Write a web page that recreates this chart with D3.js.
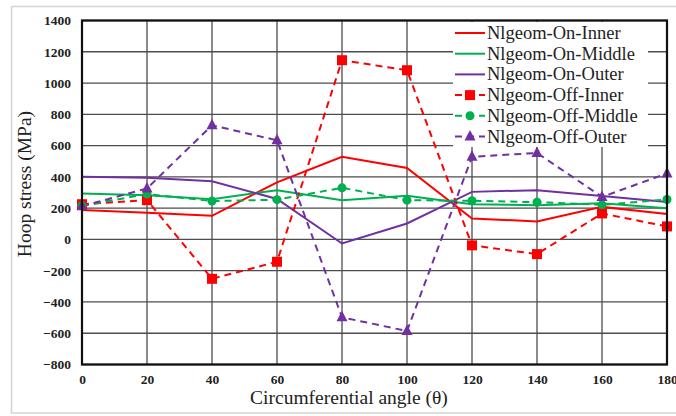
<!DOCTYPE html>
<html><head><meta charset="utf-8">
<script src="https://cdn.jsdelivr.net/npm/d3@7"></script>
<style>body{margin:0;background:#fff}svg{display:block}svg text{font-family:"Liberation Serif","Times New Roman",Times,"DejaVu Serif",serif}</style>
</head><body>
<svg id="c" width="676" height="416"></svg>
<script>
const angles = [0,20,40,60,80,100,120,140,160,180];
const onInner   = [188,170,151,365,528,457,134,115,208,162];
const onMiddle  = [294,282,257,315,251,279,225,219,232,200];
const onOuter   = [400,395,372,259,-26,102,304,315,277,240];
const offInner  = [225,251,-252,-143,1146,1082,-38,-94,166,83];
const offMiddle = [215,290,245,254,330,251,247,238,221,255];
const offOuter  = [212,326,730,634,-498,-586,528,553,272,422];
const yTicks = [-800,-600,-400,-200,0,200,400,600,800,1000,1200,1400];
const xTicks = angles;
const seriesNames = ["Nlgeom-On-Inner","Nlgeom-On-Middle","Nlgeom-On-Outer","Nlgeom-Off-Inner","Nlgeom-Off-Middle","Nlgeom-Off-Outer"];
const seriesColors = ["#ff0000","#00b050","#7030a0","#ff0000","#00b050","#7030a0"];
const seriesValues = [onInner,onMiddle,onOuter,offInner,offMiddle,offOuter];
const seriesDashed = [false,false,false,true,true,true];
const seriesMarker = [null,null,null,"square","circle","triangle"];

const svg = d3.select("#c");
const L=82,R=667,T=20.5,B=364.5;
const x = d3.scaleLinear().domain([0,180]).range([L,R]);
const y = d3.scaleLinear().domain([-800,1400]).range([B,T]);

// outer frame
svg.append("rect").attr("x",11.5).attr("y",6.5).attr("width",680).attr("height",406.5)
  .attr("fill","#fff").attr("stroke","#d4d4d4").attr("stroke-width",1.5);

// grid
const g = svg.append("g");
g.selectAll(".gx").data(xTicks).join("line")
  .attr("x1",d=>x(d)).attr("x2",d=>x(d)).attr("y1",T).attr("y2",B)
  .attr("stroke","#4d4d4d").attr("stroke-width",1.3);
g.selectAll(".gy").data(yTicks).join("line")
  .attr("y1",d=>y(d)).attr("y2",d=>y(d)).attr("x1",L).attr("x2",R)
  .attr("stroke","#4d4d4d").attr("stroke-width",1.3);

// axes (labels)
const yAxis = svg.append("g").attr("transform",`translate(${L},0)`)
  .call(d3.axisLeft(y).tickValues(yTicks).tickSize(0).tickPadding(11).tickFormat(d3.format("d")));
yAxis.select(".domain").remove();
yAxis.attr("font-family",null);
yAxis.selectAll("text").attr("font-weight","bold").attr("font-size",13.5).attr("fill","#222");
const xAxis = svg.append("g").attr("transform",`translate(0,${B})`)
  .call(d3.axisBottom(x).tickValues(xTicks).tickSize(0).tickPadding(10));
xAxis.select(".domain").remove();
xAxis.attr("font-family",null);
xAxis.selectAll("text").attr("font-weight","bold").attr("font-size",13.5).attr("fill","#222");

// legend background
svg.append("rect").attr("x",453).attr("y",22).attr("width",195).attr("height",125).attr("fill","#fff");

// series
const line = d3.line().x((d,i)=>x(angles[i])).y(d=>y(d));
const plot = svg.append("g");
seriesValues.forEach((vals,k)=>{
  plot.append("path").datum(vals).attr("d",line).attr("fill","none")
    .attr("stroke",seriesColors[k]).attr("stroke-width",2)
    .attr("stroke-dasharray",seriesDashed[k]?"7,5":null);
});
function marker(sel,type,color){
  if(type==="square") sel.append("rect").attr("x",-5).attr("y",-5).attr("width",10).attr("height",10).attr("fill",color);
  else if(type==="circle") sel.append("circle").attr("r",4.5).attr("fill",color);
  else if(type==="triangle") sel.append("path").attr("d","M0,-6.5L5.5,4L-5.5,4Z").attr("fill",color);
}
seriesValues.forEach((vals,k)=>{
  if(!seriesMarker[k]) return;
  vals.forEach((v,i)=>{
    const m = plot.append("g").attr("transform",`translate(${x(angles[i])},${y(v)})`);
    marker(m,seriesMarker[k],seriesColors[k]);
  });
});

// frame
svg.append("rect").attr("x",L).attr("y",T).attr("width",R-L).attr("height",B-T)
  .attr("fill","none").attr("stroke","#111").attr("stroke-width",2.2);

// legend
const lg = svg.append("g");
seriesNames.forEach((n,k)=>{
  const yy = 33 + k*20.7;
  const row = lg.append("g").attr("transform",`translate(0,${yy})`);
  row.append("line").attr("x1",455).attr("x2",485).attr("y1",0).attr("y2",0)
    .attr("stroke",seriesColors[k]).attr("stroke-width",2)
    .attr("stroke-dasharray",seriesDashed[k]?"7,5":null);
  if(seriesMarker[k]){
    const m=row.append("g").attr("transform","translate(470,0)");
    marker(m,seriesMarker[k],seriesColors[k]);
  }
  row.append("text").attr("x",487).attr("y",6)
    .attr("font-size",18.5).attr("fill","#222").text(n);
});

// axis titles
svg.append("text").attr("x",349).attr("y",404).attr("text-anchor","middle")
  .attr("font-size",19.5).attr("fill","#222")
  .text("Circumferential angle (θ)");
svg.append("text").attr("transform","translate(31,184) rotate(-90)").attr("text-anchor","middle")
  .attr("font-size",19.5).attr("fill","#222")
  .text("Hoop stress (MPa)");
</script>
</body></html>
